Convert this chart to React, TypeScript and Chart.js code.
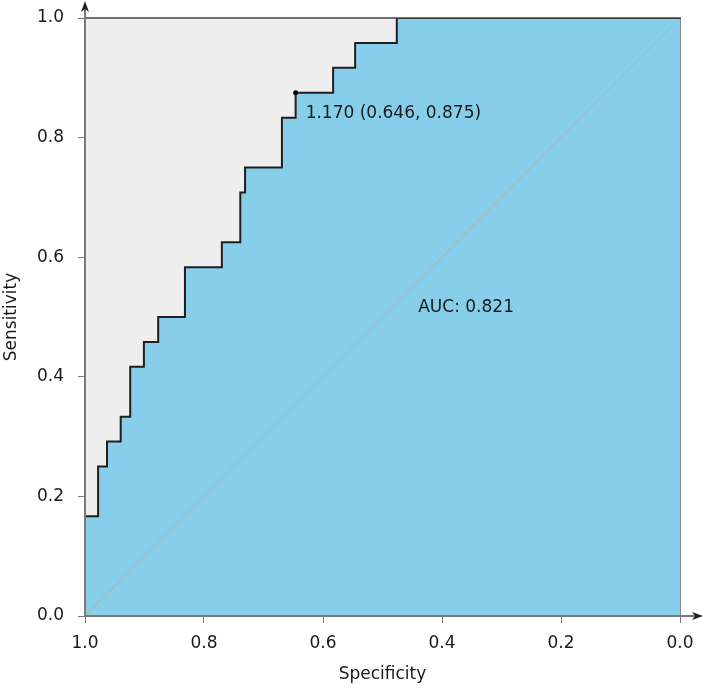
import React, { useEffect, useRef } from "react";
import { Chart, registerables } from "chart.js";

Chart.register(...registerables);

// ROC curve corner points (specificity, sensitivity)
const specificity = [1.0, 1.0, 0.978, 0.978, 0.963, 0.963, 0.94, 0.94, 0.924, 0.924, 0.901, 0.901, 0.877, 0.877, 0.832, 0.832, 0.77, 0.77, 0.739, 0.739, 0.731, 0.731, 0.669, 0.669, 0.646, 0.646, 0.583, 0.583, 0.546, 0.546, 0.476, 0.476, 0.0];
const sensitivity = [0.0, 0.167, 0.167, 0.25, 0.25, 0.292, 0.292, 0.333, 0.333, 0.417, 0.417, 0.458, 0.458, 0.5, 0.5, 0.583, 0.583, 0.625, 0.625, 0.708, 0.708, 0.75, 0.75, 0.833, 0.833, 0.875, 0.875, 0.917, 0.917, 0.958, 0.958, 1.0, 1.0];

// Reference (chance) line
const diagonalSpec = [1.0, 0.0];
const diagonalSens = [0.0, 1.0];

// Best threshold
const bestThreshold = 1.17;
const bestSpec = 0.646;
const bestSens = 0.875;

// AUC and its label anchor (in data units)
const aucValue = 0.821;
const aucLabelSpec = 0.44;
const aucLabelSens = 0.515;

const axisMin = 0;
const axisMax = 1;
const tickStep = 0.2;

const xTitle = "Specificity";
const yTitle = "Sensitivity";

const FONT = "'DejaVu Sans', Verdana, sans-serif";
const FONT_SIZE = 17;

export default function App() {
  const canvasRef = useRef<HTMLCanvasElement | null>(null);

  useEffect(() => {
    document.body.style.margin = "0";
    const canvas = canvasRef.current;
    if (!canvas) return;

    const bgPlugin = {
      id: "rocBackground",
      beforeDraw(chart: any) {
        const { ctx, chartArea } = chart;
        ctx.save();
        ctx.fillStyle = "#eeeeee";
        ctx.fillRect(chartArea.left, chartArea.top, chartArea.right - chartArea.left, chartArea.bottom - chartArea.top);
        ctx.restore();
      },
    };

    const overlayPlugin = {
      id: "rocOverlay",
      afterDraw(chart: any) {
        const { ctx, chartArea } = chart;
        const xs = chart.scales.x;
        const ys = chart.scales.y;
        const L = chartArea.left, R = chartArea.right, T = chartArea.top, B = chartArea.bottom;
        ctx.save();
        // right border
        ctx.strokeStyle = "#8a8a8a";
        ctx.lineWidth = 1;
        ctx.beginPath();
        ctx.moveTo(R + 0.5, T);
        ctx.lineTo(R + 0.5, B);
        ctx.stroke();
        // top border
        ctx.strokeStyle = "#444444";
        ctx.lineWidth = 1.5;
        ctx.beginPath();
        ctx.moveTo(L, T);
        ctx.lineTo(R + 1, T);
        ctx.stroke();
        // y axis line
        ctx.strokeStyle = "#7a7a7a";
        ctx.lineWidth = 2;
        ctx.beginPath();
        ctx.moveTo(L, B);
        ctx.lineTo(L, 4);
        ctx.stroke();
        // x axis line
        ctx.beginPath();
        ctx.moveTo(L, B);
        ctx.lineTo(R + 20, B);
        ctx.stroke();
        // arrows
        ctx.fillStyle = "#222222";
        ctx.beginPath();
        ctx.moveTo(L, 1);
        ctx.lineTo(L - 4, 12);
        ctx.lineTo(L, 9);
        ctx.lineTo(L + 4, 12);
        ctx.closePath();
        ctx.fill();
        ctx.beginPath();
        ctx.moveTo(R + 23, B);
        ctx.lineTo(R + 12, B - 4);
        ctx.lineTo(R + 15, B);
        ctx.lineTo(R + 12, B + 4);
        ctx.closePath();
        ctx.fill();

        // labels
        ctx.fillStyle = "#1a1a1a";
        ctx.font = `${FONT_SIZE}px ${FONT}`;
        ctx.textAlign = "left";
        ctx.textBaseline = "middle";
        const px = xs.getPixelForValue(bestSpec);
        const py = ys.getPixelForValue(bestSens);
        ctx.fillText(
          `${bestThreshold.toFixed(3)} (${bestSpec.toFixed(3)}, ${bestSens.toFixed(3)})`,
          px + 10,
          py + 21
        );
        ctx.fillText(
          `AUC: ${aucValue.toFixed(3)}`,
          xs.getPixelForValue(aucLabelSpec),
          ys.getPixelForValue(aucLabelSens)
        );
        ctx.restore();
      },
    };

    const curveData = specificity.map((s, i) => ({ x: s, y: sensitivity[i] }));
    const diagData = diagonalSpec.map((s, i) => ({ x: s, y: diagonalSens[i] }));

    const chart = new Chart(canvas, {
      type: "line",
      data: {
        datasets: [
          {
            label: "ROC",
            data: curveData,
            borderColor: "#1f1f1f",
            borderWidth: 2,
            backgroundColor: "#87ceeb",
            fill: "origin",
            pointRadius: 0,
            tension: 0,
            order: 1,
          },
          {
            label: "Best",
            data: [{ x: bestSpec, y: bestSens }],
            showLine: false,
            pointRadius: 2.5,
            pointBackgroundColor: "#000000",
            pointBorderColor: "#000000",
            borderWidth: 0,
            order: 0,
          },
          {
            label: "Chance",
            data: diagData,
            borderColor: "#b2b2b2",
            borderWidth: 1,
            pointRadius: 0,
            fill: false,
            order: 2,
          },
        ],
      },
      options: {
        animation: false,
        responsive: false,
        devicePixelRatio: 1,
        layout: { padding: { left: 0, right: 24, top: 18, bottom: 0 } },
        plugins: {
          legend: { display: false },
          tooltip: { enabled: false },
          filler: { drawTime: "beforeDatasetsDraw" },
        },
        scales: {
          x: {
            type: "linear",
            reverse: true,
            min: axisMin,
            max: axisMax,
            border: { display: false },
            grid: {
              display: true,
              drawOnChartArea: false,
              drawTicks: true,
              tickLength: 7,
              color: "#7a7a7a",
              lineWidth: 1,
            },
            ticks: {
              stepSize: tickStep,
              padding: 10,
              color: "#1a1a1a",
              font: { family: FONT, size: FONT_SIZE },
              callback: (v: any) => Number(v).toFixed(1),
              maxRotation: 0,
            },
            title: {
              display: true,
              text: xTitle,
              color: "#1a1a1a",
              font: { family: FONT, size: FONT_SIZE },
              padding: { top: 0, bottom: 4 },
            },
            afterFit: (scale: any) => {
              scale.height = 73;
              scale.paddingLeft = 0;
              scale.paddingRight = 0;
            },
          },
          y: {
            type: "linear",
            min: axisMin,
            max: axisMax,
            border: { display: false },
            grid: {
              display: true,
              drawOnChartArea: false,
              drawTicks: true,
              tickLength: 7,
              color: "#7a7a7a",
              lineWidth: 1,
            },
            ticks: {
              stepSize: tickStep,
              padding: 14,
              color: "#1a1a1a",
              font: { family: FONT, size: FONT_SIZE },
              callback: (v: any) => Number(v).toFixed(1),
            },
            title: {
              display: true,
              text: yTitle,
              color: "#1a1a1a",
              font: { family: FONT, size: FONT_SIZE },
              padding: { top: 1, bottom: 0 },
            },
            afterFit: (scale: any) => {
              scale.width = 85;
              scale.paddingTop = 0;
              scale.paddingBottom = 0;
            },
          },
        },
      },
      plugins: [bgPlugin, overlayPlugin],
    });

    return () => chart.destroy();
  }, []);

  return (
    <div style={{ width: 704, height: 689 }}>
      <canvas ref={canvasRef} width={704} height={689} style={{ display: "block" }} />
    </div>
  );
}
